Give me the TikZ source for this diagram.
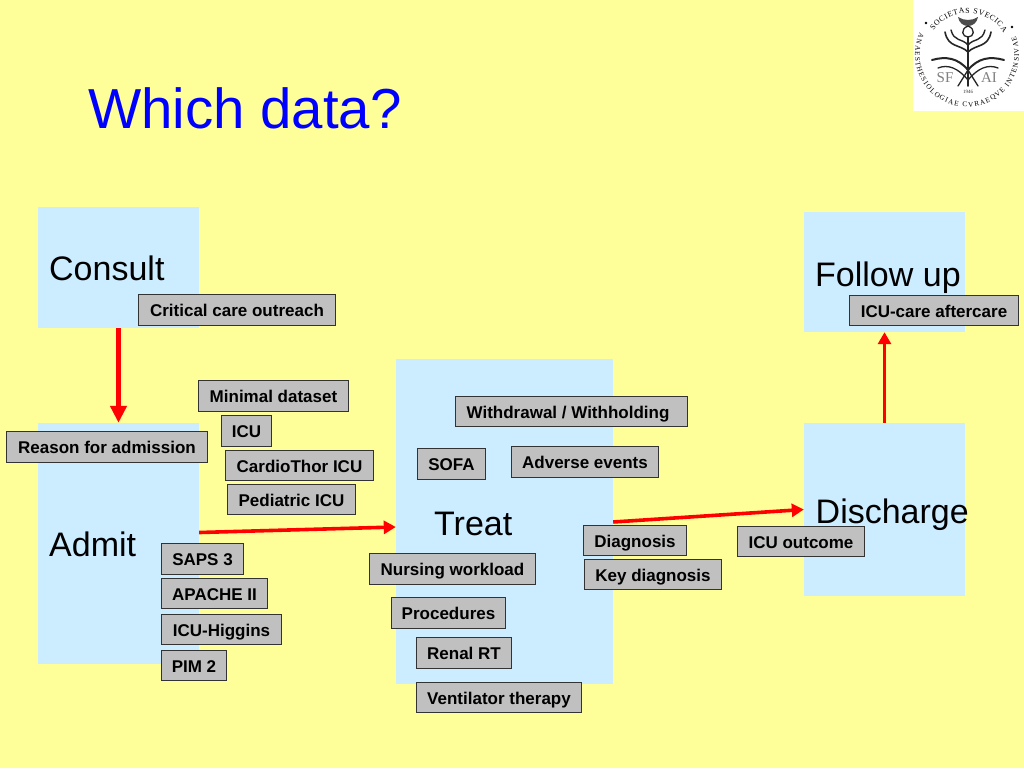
\documentclass[tikz,border=0pt]{standalone}
\usepackage{fontspec}
\setmainfont{Liberation Sans}
\newfontfamily\logofont{Liberation Serif}
\usetikzlibrary{arrows.meta,decorations.text}
\definecolor{slidebg}{RGB}{255,255,153}
\definecolor{panel}{RGB}{204,236,255}
\definecolor{tagfill}{RGB}{192,192,192}
\definecolor{titleblue}{RGB}{0,0,255}
\tikzset{
  x=1pt,y=-1pt,
  panelbox/.style={fill=panel,draw=none,inner sep=0pt},
  paneltext/.style={font=\fontsize{34}{38}\selectfont,text=black,anchor=base west,inner sep=0pt},
  tagbox/.style={fill=tagfill,draw=black!80,line width=0.9pt,inner sep=0pt,text height=13pt,text depth=0pt,font=\fontsize{17}{19}\bfseries\selectfont,text=black},
  flow/.style={draw=red,-{Triangle[length=12pt,width=13pt]}},
  bigflow/.style={draw=red,-{Triangle[length=17pt,width=16pt]}},
}
\newcommand{\panelat}[5]{\node[panelbox,minimum width=#4-#2,minimum height=#5-#3] (#1) at ({(#2+#4)/2},{(#3+#5)/2}) {};}
\newcommand{\tagat}[6]{\node[tagbox,minimum width=#4-#2,minimum height=#5-#3] (#1) at ({(#2+#4)/2-0.5},{(#3+#5)/2-0.5}) {#6};}
\begin{document}
\begin{tikzpicture}
\useasboundingbox (0,0) rectangle (1024,768);
\fill[slidebg] (0,0) rectangle (1024,768);

% logo
\fill[white] (913,0) rectangle (1024,111);
\path[decorate,decoration={text along path,text align={fit to path},text={|\logofont\fontsize{7.8}{9}\selectfont|SOCIETAS SVECICA}}]
  (968,55) ++(215:42) arc[start angle=215,end angle=328,radius=42];
\path[decorate,decoration={text along path,text align={fit to path},text={|\logofont\fontsize{7.2}{8}\selectfont|ANAESTHESIOLOGIAE CVRAEQVE INTENSIVAE}}]
  (967,55) ++(205:52) arc[start angle=205,end angle=-21,radius=52];
\fill[black] (926,23) circle (1.3) (1012,27) circle (1.3);
\begin{scope}[line cap=round,draw=black!85]
  \fill[black!70] (958,17) .. controls (960,29) and (976,29) .. (978,17) .. controls (972,21) and (964,21) .. (958,17) -- cycle;
  \draw[line width=1.3pt] (968,26) .. controls (960,29) and (962,37) .. (968,37) .. controls (974,37) and (976,29) .. (968,26);
  \draw[line width=1.6pt] (945,32) .. controls (948,48) and (960,44) .. (968,52) .. controls (976,44) and (988,48) .. (991,32);
  \draw[line width=1.4pt] (951,30) .. controls (954,42) and (962,38) .. (968,45) .. controls (974,38) and (982,42) .. (985,30);
  \draw[line width=1.6pt] (968,37) -- (968,86);
  \draw[line width=2pt] (932,60) .. controls (946,56) and (958,58) .. (968,70) .. controls (978,58) and (990,56) .. (1004,60);
  \draw[line width=1.3pt] (938,68) .. controls (948,64) and (958,68) .. (968,80) .. controls (978,68) and (988,64) .. (998,68);
  \draw[line width=1.3pt] (958,86) -- (968,70) -- (978,86);
\end{scope}
\node[inner sep=0pt,text=black!50,font=\logofont\fontsize{15}{16}\selectfont] (logosf) at (945,78) {SF};
\node[inner sep=0pt,text=black!50,font=\logofont\fontsize{15}{16}\selectfont] (logoai) at (989,78) {AI};
\node[inner sep=0pt,text=black!80,font=\logofont\fontsize{5}{6}\selectfont] (logoyear) at (968,92) {1946};

% title
\node[anchor=base west,inner sep=0pt,text=titleblue,font=\fontsize{56.4}{60}\selectfont] (title) at (88,128) {Which data?};

% panels
\panelat{consult}{38}{207}{199}{328}
\panelat{admit}{38}{423}{199}{664}
\panelat{treat}{396}{359}{613}{684}
\panelat{discharge}{804}{423}{965}{596}
\panelat{followup}{804}{212}{965}{332}
\node[paneltext] (consultlabel) at (49,280) {Consult};
\node[paneltext] (admitlabel) at (49,556) {Admit};
\node[paneltext] (treatlabel) at (434,535) {Treat};
\node[paneltext] (dischargelabel) at (815.5,523) {Discharge};
\node[paneltext] (followlabel) at (815,286) {Follow up};

% flows
\draw[bigflow,line width=5.2pt] (consult.south) -- (admit.north);
\draw[flow,line width=3.6pt] ([yshift=11pt]admit.east) -- ([yshift=-5.5pt]treat.west);
\draw[flow,line width=3.6pt] ([yshift=-0.5pt]treat.east) -- (discharge.west);
\draw[flow,line width=3.6pt] (discharge.north) -- (followup.south);

% tags
\tagat{outreach}{139}{295}{336}{326}{Critical care outreach}
\tagat{minimal}{199}{381}{349}{412}{Minimal dataset}
\tagat{icu}{222}{416}{272}{447}{ICU}
\tagat{cardio}{226}{451}{374}{481}{CardioThor ICU}
\tagat{pediatric}{228}{485}{356}{515}{Pediatric ICU}
\tagat{reason}{7}{432}{208}{463}{Reason for admission}
\tagat{saps}{162}{544}{244}{575}{SAPS 3}
\tagat{apache}{162}{579}{268}{609}{APACHE II}
\tagat{higgins}{162}{615}{282}{645}{ICU-Higgins}
\tagat{pim}{162}{651}{227}{681}{PIM 2}
\tagat{withdrawal}{456}{397}{688}{427}{Withdrawal / Withholding\kern7pt}
\tagat{sofa}{418}{449}{486}{480}{SOFA}
\tagat{adverse}{512}{447}{659}{478}{Adverse events}
\tagat{nursing}{370}{554}{536}{585}{Nursing workload}
\tagat{procedures}{392}{598}{506}{629}{Procedures}
\tagat{renal}{417}{638}{512}{669}{Renal RT}
\tagat{ventilator}{417}{683}{582}{713}{Ventilator therapy}
\tagat{diagnosis}{584}{526}{687}{556}{Diagnosis}
\tagat{keydiag}{585}{560}{722}{590}{Key diagnosis}
\tagat{outcome}{738}{527}{865}{557}{ICU outcome}
\tagat{aftercare}{850}{296}{1019}{326}{ICU-care aftercare}
\end{tikzpicture}
\end{document}
